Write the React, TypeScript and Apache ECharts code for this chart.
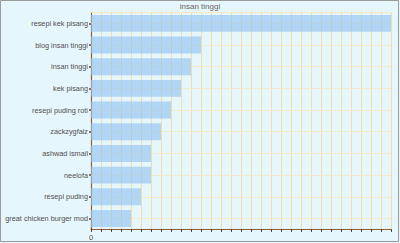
import React, { useEffect, useRef } from "react";
import * as echarts from "echarts";

const chartTitle = "insan tinggi";
const categories = [
  "resepi kek pisang",
  "blog insan tinggi",
  "insan tinggi",
  "kek pisang",
  "resepi puding roti",
  "zackzygfaiz",
  "ashwad ismail",
  "neelofa",
  "resepi puding",
  "great chicken burger mod",
];
const values = [30, 11, 10, 9, 8, 7, 6, 6, 5, 4];
const xMin = 0;
const xMax = 30;
const xStep = 1;

export default function App() {
  const ref = useRef<HTMLDivElement>(null);
  useEffect(() => {
    if (!ref.current) return;
    const chart = echarts.init(ref.current, null, { renderer: "svg" });
    const gridColor = "#f5e8bd";
    const vGridColor = "#f1dea4";
    const axisColor = "#8b5e3c";
    const font = "'Liberation Sans', Arial, sans-serif";
    const cats = categories.slice().reverse();
    const vals = values.slice().reverse();
    chart.setOption({
      animation: false,
      backgroundColor: "#e6f6fd",
      title: {
        text: chartTitle,
        left: "center",
        top: 2,
        padding: 0,
        textStyle: { fontFamily: font, fontSize: 8, fontWeight: "normal", color: "#666" },
      },
      grid: { left: 91, right: 9, top: 12.5, bottom: 13.7, containLabel: false },
      xAxis: [
        {
          type: "value",
          min: xMin,
          max: xMax,
          interval: xStep,
          axisLine: { show: true, lineStyle: { color: axisColor, width: 1.2 } },
          axisTick: { show: true, length: 2.5, lineStyle: { color: "#3a2a1a", width: 1 } },
          axisLabel: {
            fontFamily: font,
            fontSize: 7.5,
            color: "#555",
            margin: 4,
            formatter: (v: number) => (v === xMin ? String(v) : ""),
          },
          splitLine: { show: true, lineStyle: { color: vGridColor, width: 1 } },
        },
        {
          type: "value",
          position: "top",
          min: xMin,
          max: xMax,
          axisLine: { show: true, onZero: false, lineStyle: { color: gridColor, width: 1 } },
          axisTick: { show: false },
          axisLabel: { show: false },
          splitLine: { show: false },
        },
      ],
      yAxis: {
        type: "category",
        data: cats,
        axisLine: { show: true, lineStyle: { color: axisColor, width: 1.2 } },
        axisTick: { show: true, alignWithLabel: true, length: 2, lineStyle: { color: "#7a3a2a", width: 1.5 } },
        axisLabel: { fontFamily: font, fontSize: 7.3, color: "#505050", margin: 3 },
        splitLine: { show: false },
      },
      series: [
        {
          type: "bar",
          data: vals,
          barCategoryGap: "22%",
          itemStyle: { color: "rgba(150, 198, 240, 0.68)" },
          markLine: {
            silent: true,
            symbol: "none",
            z: 1,
            label: { show: false },
            lineStyle: { color: gridColor, type: "solid", width: 1, opacity: 0.8 },
            data: cats.map((c) => ({ yAxis: c })),
          },
        },
      ],
      graphic: [
        {
          type: "rect",
          shape: { x: 0.5, y: 0.5, width: 398, height: 241 },
          style: { fill: "none", stroke: "#9a9a9a", lineWidth: 1 },
          silent: true,
        },
      ],
    });
    return () => chart.dispose();
  }, []);
  return (
    <div
      ref={ref}
      style={{ position: "fixed", left: 0, top: 0, width: 400, height: 243 }}
    />
  );
}
